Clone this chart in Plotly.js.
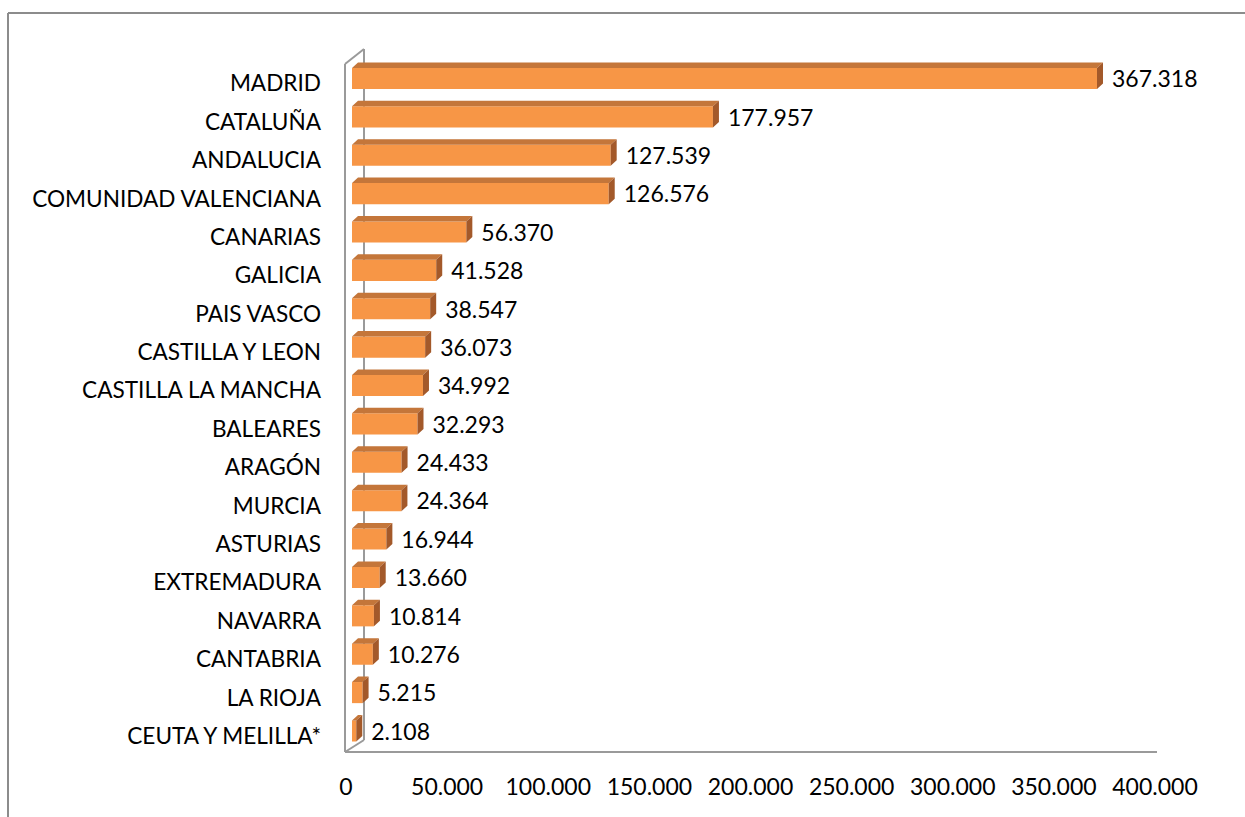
<!DOCTYPE html>
<html>
<head>
<meta charset="utf-8">
<script src="https://cdn.plot.ly/plotly-3.0.1.min.js"></script>
<style>html,body{margin:0;padding:0;background:#fff;}#chart{width:1245px;height:817px;}</style>
</head>
<body>
<div id="chart"></div>
<script>
// ---- data ----
const regions = ["MADRID","CATALUÑA","ANDALUCIA","COMUNIDAD VALENCIANA","CANARIAS","GALICIA","PAIS VASCO","CASTILLA Y LEON","CASTILLA LA MANCHA","BALEARES","ARAGÓN","MURCIA","ASTURIAS","EXTREMADURA","NAVARRA","CANTABRIA","LA RIOJA","CEUTA Y MELILLA*"];
const values = [367318,177957,127539,126576,56370,41528,38547,36073,34992,32293,24433,24364,16944,13660,10814,10276,5215,2108];
const tickMax = 400000;
const tickStep = 50000;

// ---- geometry (pixels) ----
const W = 1245, H = 817;
const plotL = 346, plotR = 1163, plotT = 40, plotB = 760;
const plotW = plotR - plotL, plotH = plotB - plotT;
const pxPerUnit = 745 / 367318;           // front-face scale
const frontZeroPx = 6;                     // front-face zero offset from plot left
const tickSpanPx = 809;                    // tick axis: 0 -> 400.000 span
const rowPx = 38.38;                       // category spacing
const firstRowPx = 78.5;                   // first row centre
const labelShiftPx = 5;                    // category labels sit slightly lower
const valueShiftPx = 3;                    // value labels sit slightly lower
const barW = 0.55;                         // bar thickness (category units)
const depthX = 6, depthY = 5.5;            // 3D depth (px)
const labelGap = 9;

const idx = regions.map((_, i) => i);
const dxU = depthX / pxPerUnit;
const dyU = depthY / rowPx;

const fmt = v => String(v).replace(/\B(?=(\d{3})+(?!\d))/g, '.');

const topX = [], topY = [], sideX = [], sideY = [];
values.forEach((v, i) => {
  const yt = i - barW / 2, yb = i + barW / 2;
  topX.push(0, v, v + dxU, dxU, 0, null);
  topY.push(yt, yt, yt - dyU, yt - dyU, yt, null);
  sideX.push(v, v, v + dxU, v + dxU, v, null);
  sideY.push(yt, yb, yb - dyU, yt - dyU, yt, null);
});

const FONT = 'Lato, sans-serif';

const traces = [
  {type:'bar', orientation:'h', x: values, y: idx, width: barW,
   marker:{color:'#F79646', line:{width:0}}, hoverinfo:'skip', xaxis:'x', yaxis:'y'},
  {type:'scatter', mode:'lines', x: topX, y: topY, fill:'toself', fillcolor:'#C4763A',
   line:{width:0, color:'#C4763A'}, hoverinfo:'skip', xaxis:'x', yaxis:'y'},
  {type:'scatter', mode:'lines', x: sideX, y: sideY, fill:'toself', fillcolor:'#A3592A',
   line:{width:0, color:'#A3592A'}, hoverinfo:'skip', xaxis:'x', yaxis:'y'},
  {type:'scatter', mode:'text', x: values.map(v => v + (depthX + labelGap) / pxPerUnit),
   y: idx.map(i => i + valueShiftPx / rowPx),
   text: values.map(fmt), textposition:'middle right',
   textfont:{family: FONT, size:23, color:'#000'}, hoverinfo:'skip',
   cliponaxis:false, xaxis:'x', yaxis:'y'},
  {type:'scatter', mode:'markers', x:[0], y:[0], marker:{opacity:0}, hoverinfo:'skip',
   xaxis:'x2', yaxis:'y2', showlegend:false}
];

const px = x => (x - plotL) / plotW;
const py = y => (plotB - y) / plotH;
const wallColor = '#9A9A9A';
const seg = (x0, y0, x1, y1, c, w) => ({type:'line', xref:'paper', yref:'paper',
  x0: px(x0), y0: py(y0), x1: px(x1), y1: py(y1), line:{color:c, width:w}, layer:'below'});

const shapes = [
  seg(8, 13, 8, H + 5, '#8C8C8C', 2),
  seg(8, 13, W + 5, 13, '#8C8C8C', 2),
  seg(345, 64, 345, 752, wallColor, 2),
  seg(345, 64, 364, 49, wallColor, 2),
  seg(364, 49, 364, 740, wallColor, 2),
  seg(345, 752, 1157, 752, wallColor, 2),
  seg(345, 752, 364, 740, wallColor, 2)
];

const yTop = (plotT - firstRowPx) / rowPx;
const yBot = (plotB - firstRowPx) / rowPx;
const sh = labelShiftPx / rowPx;

const layout = {
  width: W, height: H,
  margin: {l: plotL, r: W - plotR, t: plotT, b: H - plotB, pad: 0},
  paper_bgcolor: '#fff', plot_bgcolor: 'rgba(0,0,0,0)',
  separators: ',.',
  showlegend: false,
  font: {family: FONT, size: 22, color: '#000'},
  xaxis: {range: [-frontZeroPx / pxPerUnit, (plotW - frontZeroPx) / pxPerUnit],
          visible: false, fixedrange: true},
  xaxis2: {overlaying: 'x', side: 'bottom', range: [0, tickMax * plotW / tickSpanPx],
           tick0: 0, dtick: tickStep, tickformat: ',d', showgrid: false, zeroline: false,
           showline: false, ticks: '', ticklabelstandoff: 11,
           tickfont: {family: FONT, size: 23, color: '#000'}, fixedrange: true},
  yaxis: {range: [yBot, yTop], showticklabels: false, showgrid: false,
          zeroline: false, showline: false, ticks: '', fixedrange: true},
  yaxis2: {overlaying: 'y', side: 'left', range: [yBot - sh, yTop - sh], tickvals: idx, ticktext: regions,
           showgrid: false, zeroline: false, showline: false, ticks: '', ticklabelstandoff: 24,
           tickfont: {family: FONT, size: 22.6, color: '#000'}, fixedrange: true},
  shapes: shapes
};

Plotly.newPlot('chart', traces, layout, {displayModeBar: false, staticPlot: true});
</script>
</body>
</html>
